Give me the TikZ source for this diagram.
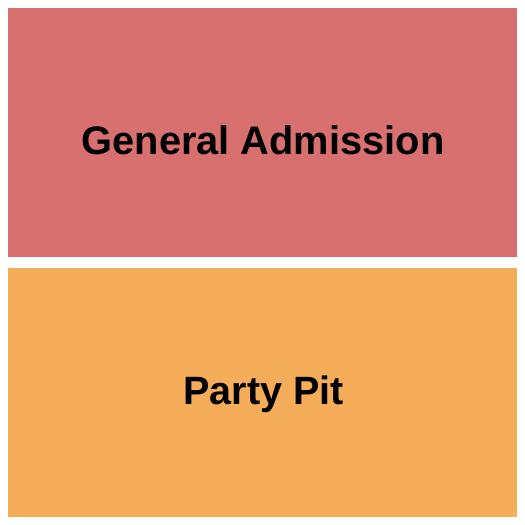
\documentclass[tikz,border=0pt]{standalone}
\usepackage{fontspec}
\setmainfont{Liberation Sans}
\definecolor{garose}{RGB}{216, 112, 112}
\definecolor{pitorange}{RGB}{245, 173, 90}
\usetikzlibrary{positioning}

\begin{document}
\begin{tikzpicture}[x=1pt, y=1pt]
  \useasboundingbox (0, 0) rectangle (525, 525);
  % General Admission section
  \node[fill=garose, inner sep=0pt, outer sep=0pt, minimum width=509pt, minimum height=249.5pt] (ga) at (262.5, 392.25) {};
  \node[font=\fontsize{39.8}{40}\selectfont\bfseries, anchor=base, inner sep=0pt] (galabel) at (263, 370.5) {General Admission};

  % Party Pit section
  \node[fill=pitorange, inner sep=0pt, outer sep=0pt, minimum width=509pt, minimum height=249pt] (pit) at (262.5, 132.5) {};
  \node[font=\fontsize{39.5}{40}\selectfont\bfseries, anchor=base, inner sep=0pt] (pitlabel) at (263.5, 120) {Party Pit};
\end{tikzpicture}
\end{document}
